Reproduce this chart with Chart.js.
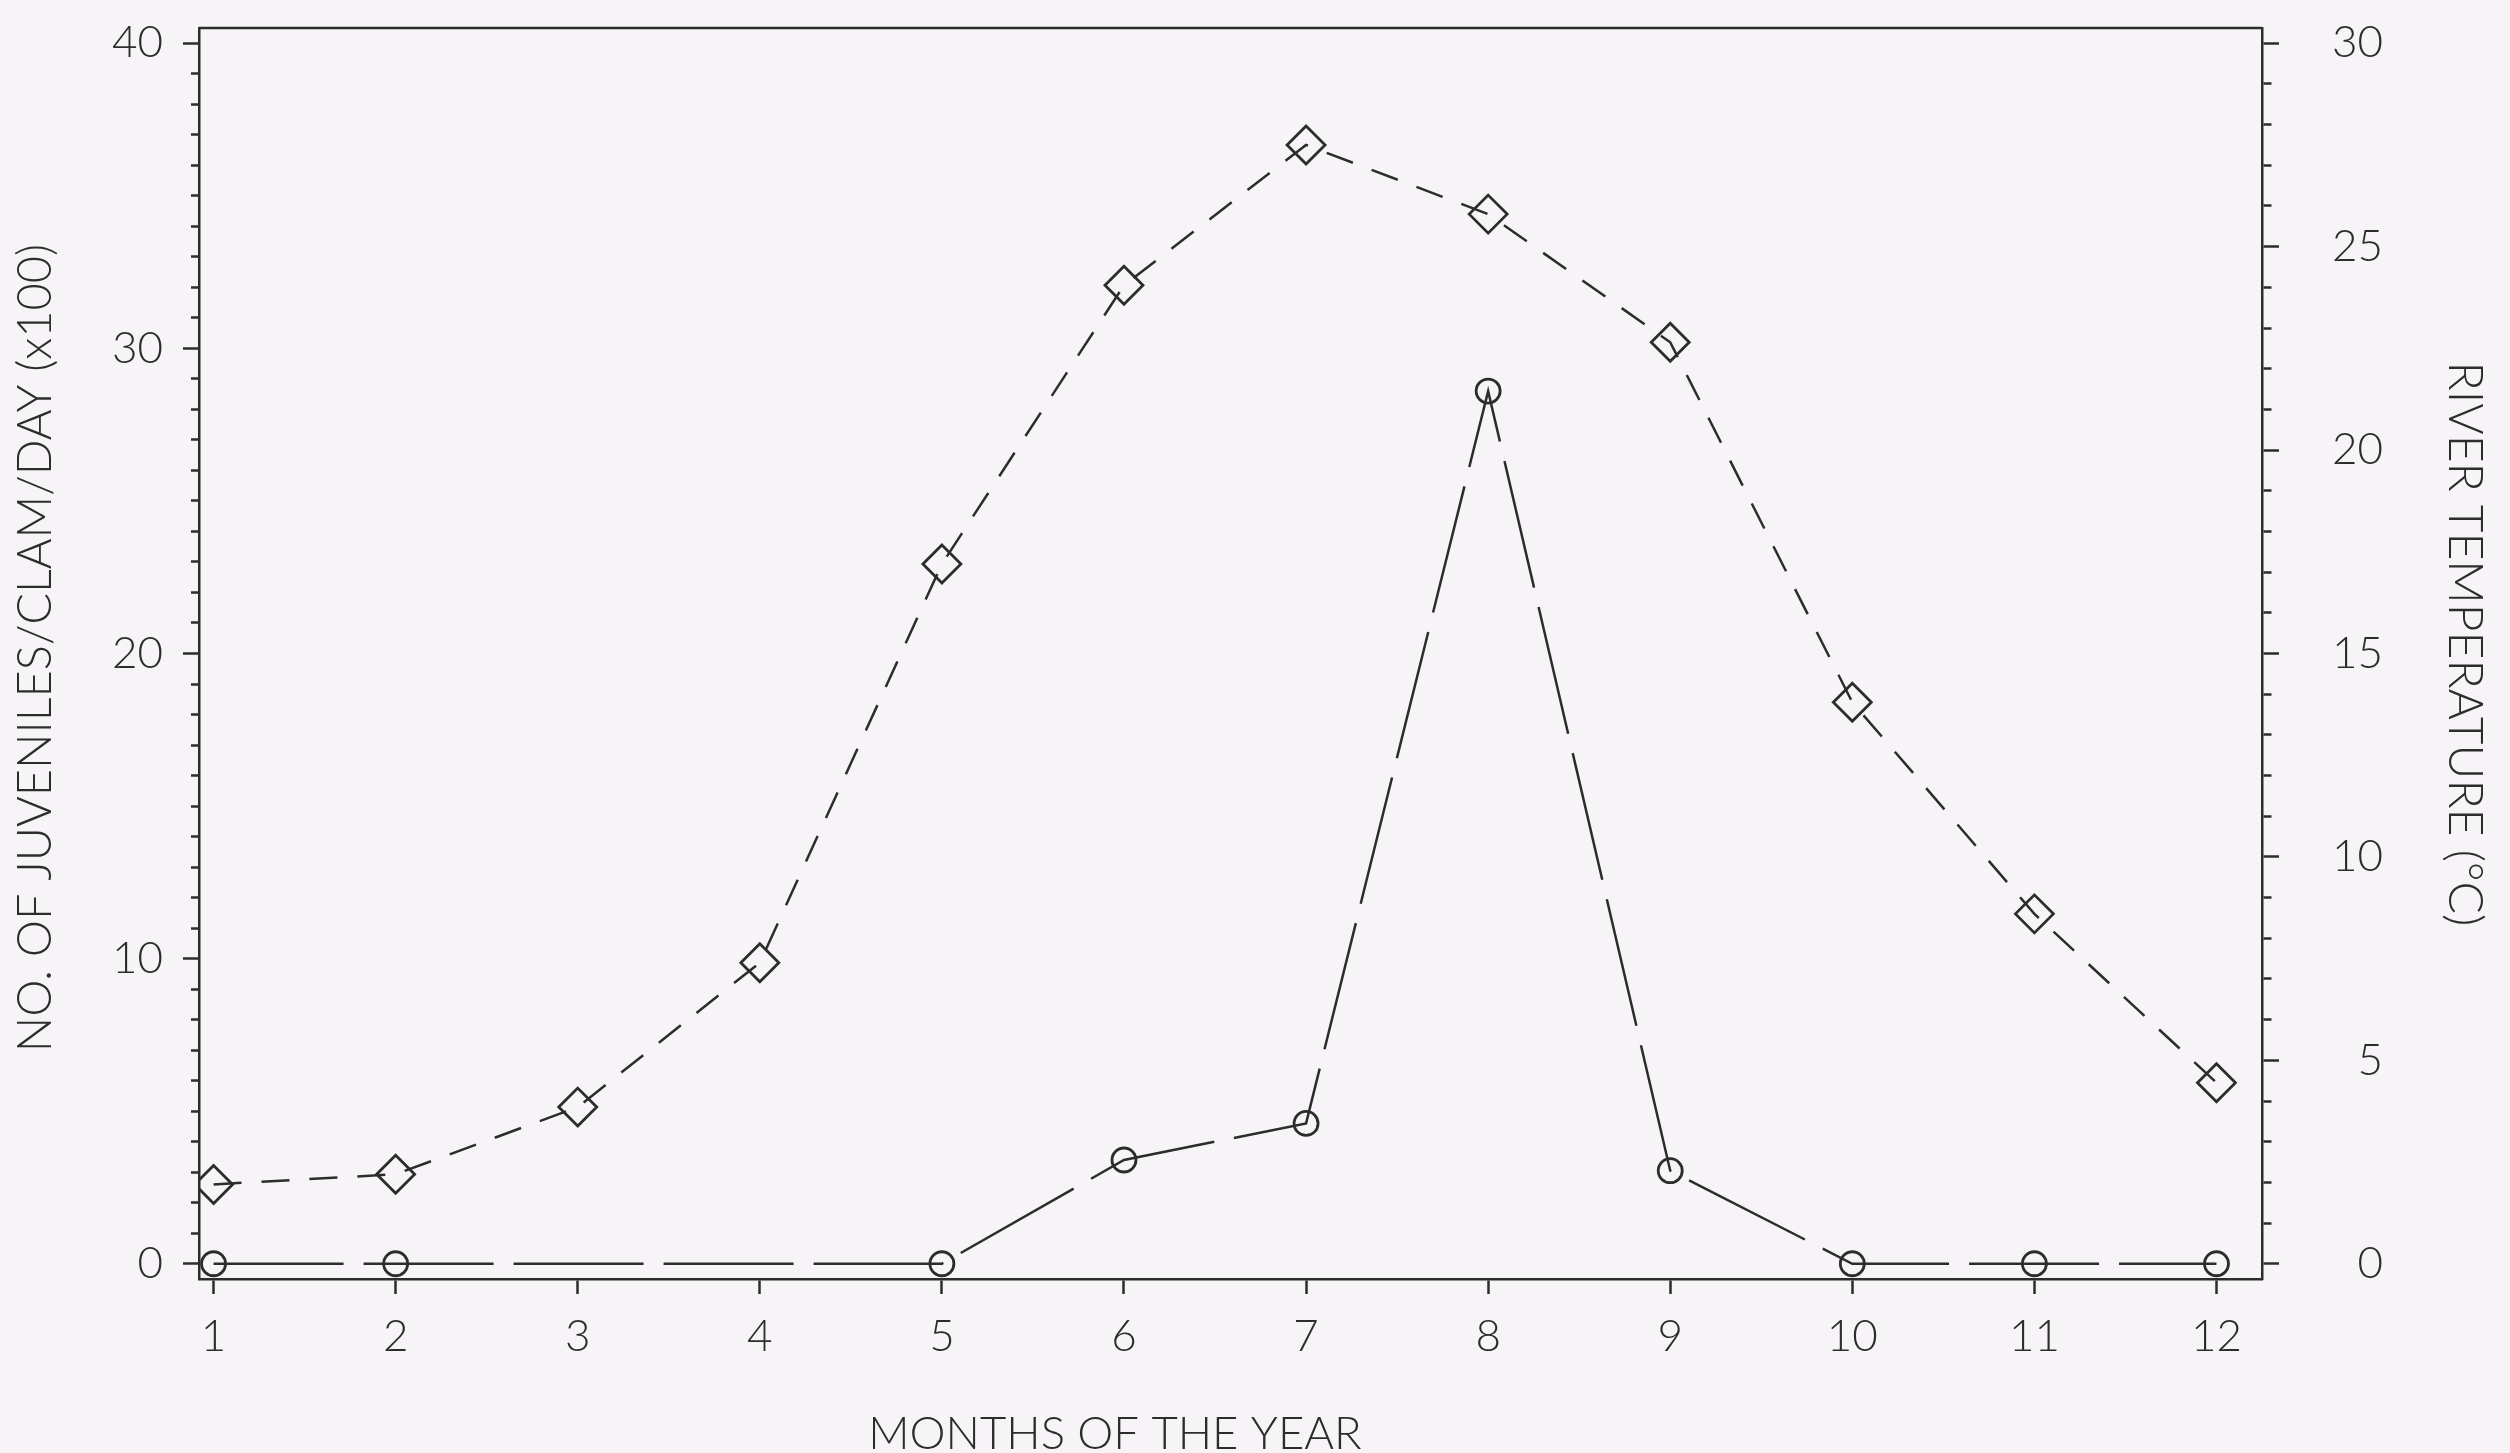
<!DOCTYPE html>
<html>
<head>
<meta charset="utf-8">
<script src="https://cdn.jsdelivr.net/npm/chart.js@4/dist/chart.umd.min.js"></script>
<style>
  html, body { margin: 0; padding: 0; background: #f7f4f7; }
  #wrap { width: 2510px; height: 1453px; position: relative; }
</style>
</head>
<body>
<div id="wrap"><canvas id="clamChart"></canvas></div>
<script>
// values
const months = [1, 2, 3, 4, 5, 6, 7, 8, 9, 10, 11, 12];
const juveniles = [0, 0, null, null, 0, 3.4, 4.6, 28.6, 3.05, 0, 0, 0];   // x100 per clam per day
const temperature = [1.95, 2.2, 3.85, 7.4, 17.2, 24.05, 27.5, 25.8, 22.65, 13.8, 8.6, 4.45]; // deg C
const leftTicks = [0, 10, 20, 30, 40];
const rightTicks = [0, 5, 10, 15, 20, 25, 30];

const ink = '#2c2c2c';
const fontFamily = 'Lato, "DejaVu Sans", sans-serif';
const tickFont = { family: fontFamily, size: 44, weight: '300' };

const everyUnit = (lo, hi) => {
  const out = [];
  for (let v = lo; v <= hi; v++) out.push({ value: v });
  return out;
};

// frame top + axis titles
const framePlugin = {
  id: 'framePlugin',
  afterDraw(chart) {
    const { ctx, chartArea } = chart;
    ctx.save();
    ctx.strokeStyle = ink;
    ctx.lineWidth = 2.5;
    ctx.beginPath();
    ctx.moveTo(chartArea.left, chartArea.top);
    ctx.lineTo(chartArea.right, chartArea.top);
    ctx.stroke();

    ctx.fillStyle = ink;
    ctx.textAlign = 'center';
    ctx.textBaseline = 'middle';

    ctx.font = '300 45.5px ' + fontFamily;
    ctx.fillText('MONTHS OF THE YEAR', 1115, 1434);

    ctx.save();
    ctx.font = '300 47px ' + fontFamily;
    ctx.translate(36, 648);
    ctx.rotate(-Math.PI / 2);
    ctx.fillText('NO. OF JUVENILES/CLAM/DAY (x100)', 0, 0);
    ctx.restore();

    ctx.save();
    ctx.font = '300 48px ' + fontFamily;
    ctx.translate(2464, 644);
    ctx.rotate(Math.PI / 2);
    ctx.fillText('RIVER TEMPERATURE (\u00B0C)', 0, 0);
    ctx.restore();
    ctx.restore();
  }
};

new Chart(document.getElementById('clamChart'), {
  type: 'line',
  data: {
    labels: months,
    datasets: [
      {
        label: 'Juveniles',
        data: juveniles,
        yAxisID: 'y',
        borderColor: ink,
        borderWidth: 2.5,
        borderDash: [130, 20],
        spanGaps: true,
        tension: 0,
        pointStyle: 'circle',
        pointRadius: 12,
        pointBorderWidth: 2.8,
        pointBorderColor: ink,
        pointBackgroundColor: 'rgba(0,0,0,0)'
      },
      {
        label: 'Temperature',
        data: temperature,
        yAxisID: 'y2',
        borderColor: ink,
        borderWidth: 2.5,
        borderDash: [28, 20],
        tension: 0,
        pointStyle: 'rectRot',
        pointRadius: 19,
        pointBorderWidth: 2.8,
        pointBorderColor: ink,
        pointBackgroundColor: 'rgba(0,0,0,0)'
      }
    ]
  },
  options: {
    responsive: true,
    maintainAspectRatio: false,
    animation: false,
    layout: { padding: { top: 28, right: 127, left: 0, bottom: 0 } },
    plugins: { legend: { display: false }, tooltip: { enabled: false } },
    scales: {
      x: {
        type: 'linear',
        min: 0.92,
        max: 12.25,
        afterBuildTicks: s => { s.ticks = months.map(m => ({ value: m })); },
        afterFit: s => { s.height = 174; s.paddingLeft = 0; s.paddingRight = 0; },
        border: { display: true, color: ink, width: 2.5 },
        grid: { drawOnChartArea: false, drawTicks: true, tickLength: 15, tickColor: ink, tickWidth: 2.5 },
        ticks: { color: ink, font: tickFont, padding: 16, autoSkip: false, maxRotation: 0 }
      },
      y: {
        position: 'left',
        min: -0.5,
        max: 40.5,
        afterBuildTicks: s => { s.ticks = everyUnit(0, 40); },
        afterFit: s => { s.width = 199; s.paddingTop = 0; s.paddingBottom = 0; },
        border: { display: true, color: ink, width: 2.5 },
        grid: {
          drawOnChartArea: false,
          tickLength: 16,
          tickColor: ink,
          tickWidth: 2.5,
          tickBorderDash: c => leftTicks.includes(c.tick.value) ? [] : [0, 8, 8, 100]
        },
        ticks: {
          color: ink, font: tickFont, padding: 20, autoSkip: false,
          callback: v => leftTicks.includes(v) ? String(v) : ''
        }
      },
      y2: {
        position: 'right',
        min: -0.375,
        max: 30.375,
        afterBuildTicks: s => { s.ticks = everyUnit(0, 30); },
        afterFit: s => { s.width = 121; s.paddingTop = 0; s.paddingBottom = 0; },
        border: { display: true, color: ink, width: 2.5 },
        grid: {
          drawOnChartArea: false,
          tickLength: 17,
          tickColor: ink,
          tickWidth: 2.5,
          tickBorderDash: c => rightTicks.includes(c.tick.value) ? [] : [8, 100]
        },
        ticks: {
          color: ink, font: tickFont, padding: 41, autoSkip: false, crossAlign: 'far',
          callback: v => rightTicks.includes(v) ? String(v) : ''
        }
      }
    }
  },
  plugins: [framePlugin]
});
</script>
</body>
</html>
